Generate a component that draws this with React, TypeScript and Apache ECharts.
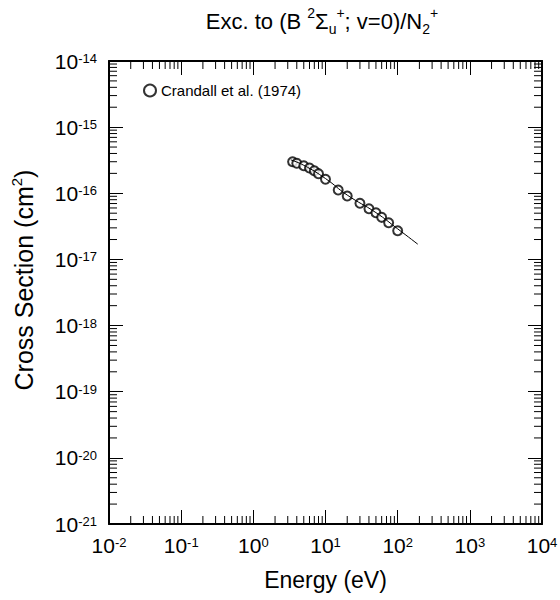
import React, { useEffect, useRef } from 'react';
import * as echarts from 'echarts';

// Crandall et al. (1974) measured points (cm^2)
const energyEV = [3.5, 4, 5, 6, 7, 8, 10, 15, 20, 30, 40, 50, 60, 75, 100];
const crossSection = [3.0e-16, 2.84e-16, 2.61e-16, 2.41e-16, 2.19e-16, 1.98e-16, 1.63e-16, 1.12e-16, 9.1e-17, 7.06e-17, 5.85e-17, 5.08e-17, 4.33e-17, 3.59e-17, 2.72e-17];

// recommended (fitted) curve (cm^2)
const fitEnergyEV = [3.3, 5, 10, 20, 50, 100, 190];
const fitCrossSection = [3.2e-16, 2.65e-16, 1.67e-16, 9.4e-17, 5.1e-17, 2.9e-17, 1.7e-17];

// axis ranges; the y axis is plotted in units of 1e-21 cm^2 to avoid float rounding of tiny values
const Y_UNIT_EXP = -21;
const Y_UNIT = Math.pow(10, Y_UNIT_EXP);
const X_MIN = 1e-2;
const X_MAX = 1e4;
const Y_MIN = 1e-21 / Y_UNIT;
const Y_MAX = 1e-14 / Y_UNIT;
const xDecades = [-2, -1, 0, 1, 2, 3];
const yDecades = [-21, -20, -19, -18, -17, -16, -15];
const minorMultipliers = [2, 3, 4, 5, 6, 7, 8, 9];

const FONT = 'Liberation Sans, DejaVu Sans, sans-serif';
const MAJOR = 14;
const MINOR = 8;

const xMinor: number[][] = [];
xDecades.forEach((d) => minorMultipliers.forEach((m) => xMinor.push([m * Math.pow(10, d), Y_MIN])));
const yMinor: number[][] = [];
yDecades.forEach((d) => minorMultipliers.forEach((m) => yMinor.push([X_MIN, m * Math.pow(10, d - Y_UNIT_EXP)])));

const xLabel = (v: number) => `{b|10}{e|${Math.round(Math.log10(v))}}`;
const yLabel = (v: number) => `{b|10}{e|${Math.round(Math.log10(v)) + Y_UNIT_EXP}}`;
const labelRich = {
  b: { fontSize: 21, fontFamily: FONT, color: '#000', lineHeight: 18, verticalAlign: 'middle' },
  e: { fontSize: 13, fontFamily: FONT, color: '#000', lineHeight: 8, verticalAlign: 'top' },
};

const lineStyle = { stroke: '#000', lineWidth: 1 };

export default function App() {
  const ref = useRef<HTMLDivElement>(null);
  useEffect(() => {
    document.body.style.margin = '0';
    if (!ref.current) return;
    const chart = echarts.init(ref.current, null, { renderer: 'svg' });
    const baseX = {
      type: 'log',
      logBase: 10,
      min: X_MIN,
      max: X_MAX,
      splitNumber: 6,
      splitLine: { show: false },
      axisLine: { show: true, onZero: false, lineStyle: { color: '#000', width: 2 } },
      axisTick: { show: true, inside: true, length: MAJOR, lineStyle: { color: '#000', width: 1 } },
    };
    const baseY = {
      type: 'log',
      logBase: 10,
      min: Y_MIN,
      max: Y_MAX,
      splitNumber: 7,
      splitLine: { show: false },
      axisLine: { show: true, onZero: false, lineStyle: { color: '#000', width: 2 } },
      axisTick: { show: true, inside: true, length: MAJOR, lineStyle: { color: '#000', width: 1 } },
    };
    chart.setOption({
      animation: false,
      backgroundColor: '#fff',
      textStyle: { fontFamily: FONT },
      grid: { left: 109, right: 18, top: 61, bottom: 76, containLabel: false, outerBoundsMode: 'none' },
      graphic: [
        {
          type: 'text',
          x: 322,
          y: 6,
          style: {
            text: '{b|Exc. to (B }{sup|2}{b|Σ}{sub|u}{sup|+}{b|; v=0)/N}{sub|2}{sup|+}',
            align: 'center',
            fill: '#000',
            rich: {
              b: { fontSize: 22, fontFamily: FONT, fill: '#000', lineHeight: 30, verticalAlign: 'middle' },
              sup: { fontSize: 14, fontFamily: FONT, fill: '#000', lineHeight: 14, verticalAlign: 'top' },
              sub: { fontSize: 14, fontFamily: FONT, fill: '#000', lineHeight: 14, verticalAlign: 'bottom' },
            },
          },
        },
        {
          type: 'text',
          x: 24,
          y: 280,
          rotation: Math.PI / 2,
          style: {
            text: '{a|Cross Section (cm}{s|2}{a|)}',
            align: 'center',
            verticalAlign: 'middle',
            fill: '#000',
            rich: {
              a: { fontSize: 25, fontFamily: FONT, fill: '#000', lineHeight: 30, verticalAlign: 'middle' },
              s: { fontSize: 15, fontFamily: FONT, fill: '#000', lineHeight: 15, verticalAlign: 'top' },
            },
          },
        },
      ],
      legend: {
        show: true,
        data: ['Crandall et al. (1974)'],
        left: 138,
        top: 78,
        icon: 'emptyCircle',
        itemWidth: 12,
        itemHeight: 12,
        itemGap: 8,
        textStyle: { fontSize: 15, fontFamily: FONT, color: '#000' },
      },
      xAxis: [
        {
          ...baseX,
          position: 'bottom',
          name: 'Energy (eV)',
          nameLocation: 'middle',
          nameGap: 44,
          nameTextStyle: { fontSize: 23, fontFamily: FONT, color: '#000' },
          axisLabel: {
            show: true,
            margin: 12,
            showMinLabel: true,
            showMaxLabel: true,
            hideOverlap: false,
            formatter: xLabel,
            rich: labelRich,
          },
        },
        {
          ...baseX,
          position: 'top',
          axisLabel: { show: false },
        },
      ],
      yAxis: [
        {
          ...baseY,
          position: 'left',
          axisLabel: {
            show: true,
            margin: 12,
            showMinLabel: true,
            showMaxLabel: true,
            hideOverlap: false,
            formatter: yLabel,
            rich: labelRich,
          },
        },
        {
          ...baseY,
          position: 'right',
          axisLabel: { show: false },
        },
      ],
      series: [
        {
          type: 'custom',
          name: 'xMinor',
          silent: true,
          clip: false,
          xAxisIndex: 0,
          yAxisIndex: 0,
          data: xMinor,
          renderItem: (params: any, api: any) => {
            const v = api.value(0);
            const b = api.coord([v, Y_MIN]);
            const t = api.coord([v, Y_MAX]);
            return {
              type: 'group',
              children: [
                { type: 'line', shape: { x1: b[0], y1: b[1], x2: b[0], y2: b[1] - MINOR }, style: lineStyle },
                { type: 'line', shape: { x1: t[0], y1: t[1], x2: t[0], y2: t[1] + MINOR }, style: lineStyle },
              ],
            };
          },
        },
        {
          type: 'custom',
          name: 'yMinor',
          silent: true,
          clip: false,
          xAxisIndex: 0,
          yAxisIndex: 0,
          data: yMinor,
          renderItem: (params: any, api: any) => {
            const v = api.value(1);
            const l = api.coord([X_MIN, v]);
            const r = api.coord([X_MAX, v]);
            return {
              type: 'group',
              children: [
                { type: 'line', shape: { x1: l[0], y1: l[1], x2: l[0] + MINOR, y2: l[1] }, style: lineStyle },
                { type: 'line', shape: { x1: r[0], y1: r[1], x2: r[0] - MINOR, y2: r[1] }, style: lineStyle },
              ],
            };
          },
        },
        {
          type: 'line',
          name: 'fit',
          data: fitEnergyEV.map((e, i) => [e, fitCrossSection[i] / Y_UNIT]),
          showSymbol: false,
          symbol: 'none',
          smooth: true,
          lineStyle: { color: '#000', width: 1 },
          silent: true,
        },
        {
          type: 'scatter',
          name: 'Crandall et al. (1974)',
          data: energyEV.map((e, i) => [e, crossSection[i] / Y_UNIT]),
          symbol: 'emptyCircle',
          symbolSize: 9,
          itemStyle: { color: '#000', borderColor: '#000', borderWidth: 1 },
        },
      ],
    });
    return () => chart.dispose();
  }, []);
  return <div ref={ref} style={{ width: 560, height: 600 }} />;
}
